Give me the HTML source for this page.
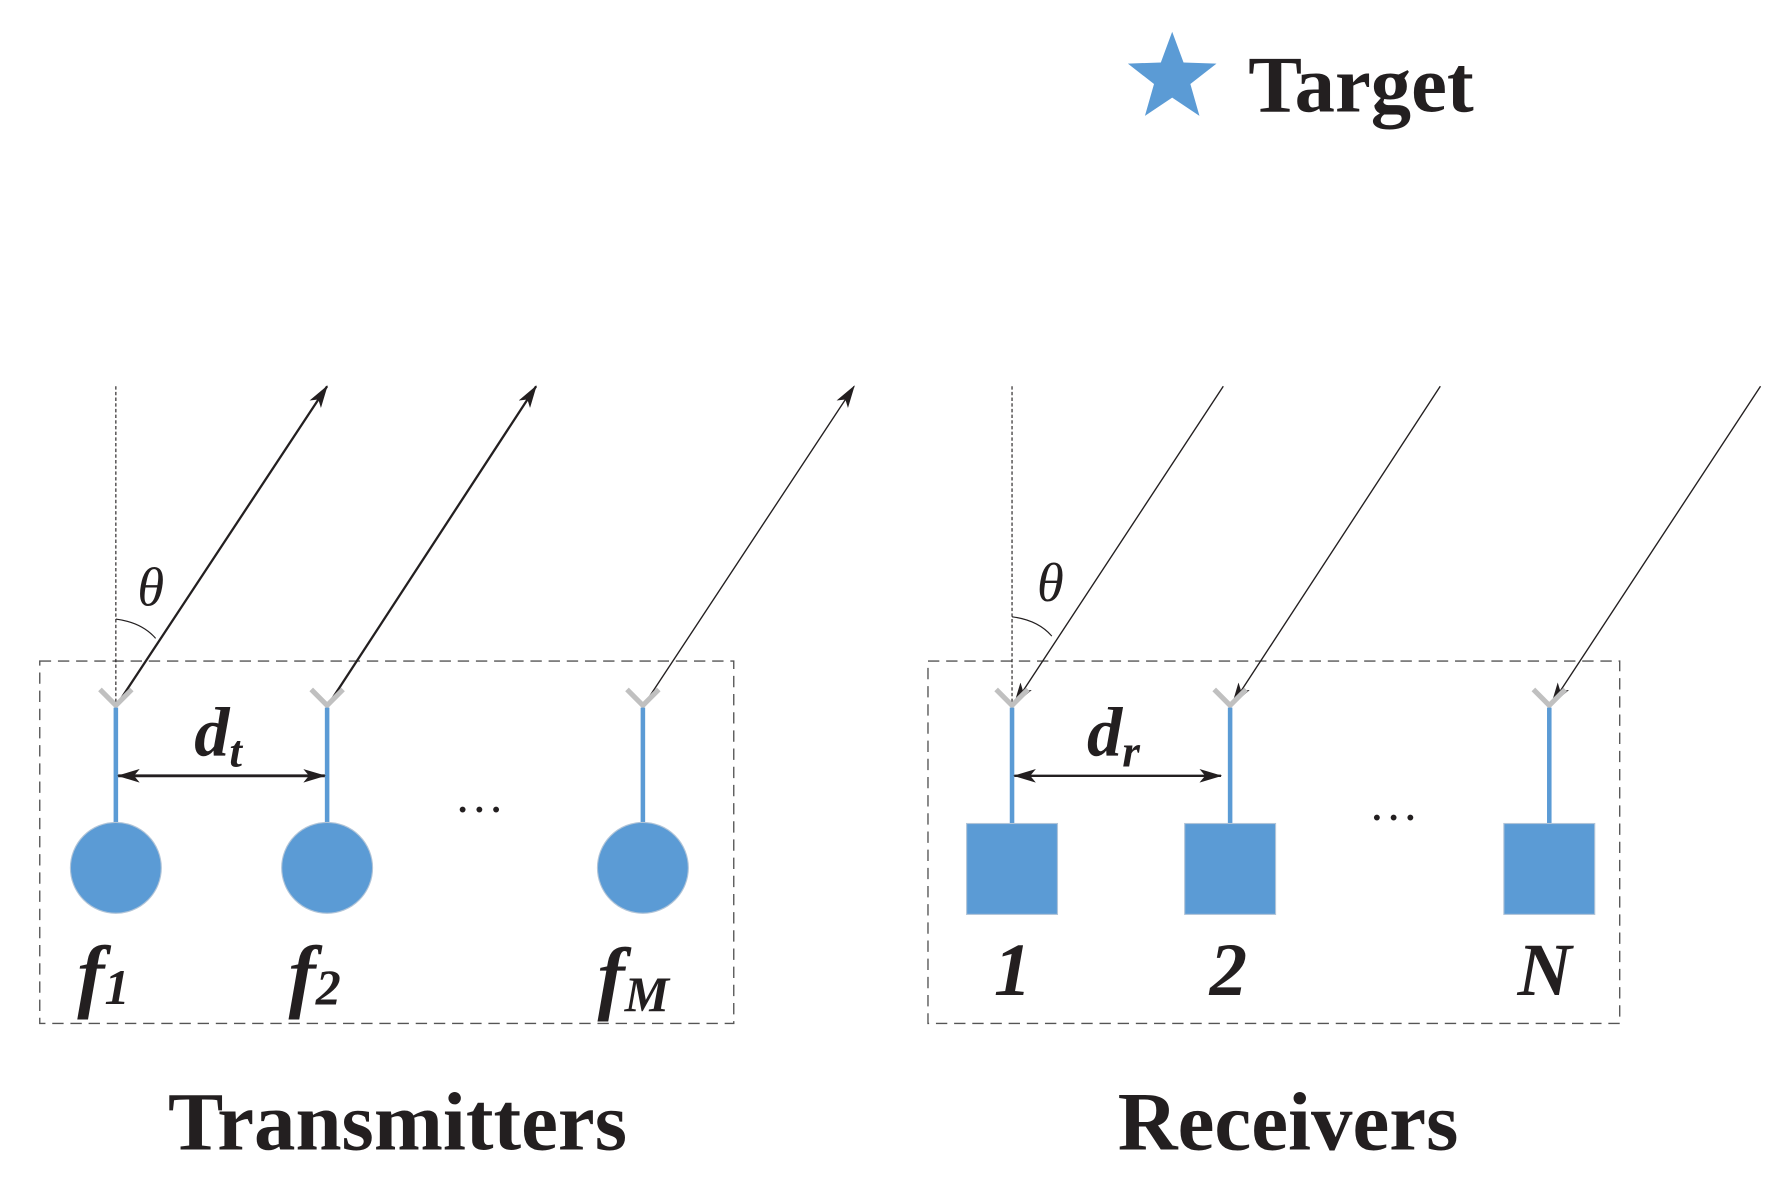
<!DOCTYPE html>
<html><head><meta charset="utf-8"><style>
html,body{margin:0;padding:0;background:#fff;}
svg{display:block;}
text{font-family:"Liberation Serif",serif;fill:#231f20;}
</style></head><body>
<svg width="1781" height="1187" viewBox="0 0 1568 1045" preserveAspectRatio="none" xmlns="http://www.w3.org/2000/svg">
<defs>
<marker id="a2" viewBox="0 0 20 12" markerWidth="20" markerHeight="12" refX="19" refY="6" orient="auto-start-reverse" markerUnits="userSpaceOnUse">
<path d="M0,0 L20,6 L0,12 L5,6 z" fill="#231f20"/>
</marker>
</defs>
<polygon points="1032,28 1042,55 1071,56 1048,74 1056,102 1032,86 1008,102 1016,74 993,56 1022,55" fill="#5b9bd5"/>
<text x="1099" y="98" font-size="71" font-weight="bold">Target</text>

<rect x="35" y="582" width="611" height="319" fill="none" stroke="#555" stroke-width="1.2" stroke-dasharray="10,6"/>
<rect x="817" y="582" width="609" height="319" fill="none" stroke="#555" stroke-width="1.2" stroke-dasharray="10,6"/>

<line x1="102" y1="340" x2="102" y2="620" stroke="#231f20" stroke-width="1" stroke-dasharray="3,2"/>
<line x1="891" y1="340" x2="891" y2="620" stroke="#231f20" stroke-width="1" stroke-dasharray="3,2"/>
<path d="M102,545 Q125,548 137,562" fill="none" stroke="#231f20" stroke-width="1"/>
<path d="M891,543 Q914,546 926,560" fill="none" stroke="#231f20" stroke-width="1"/>
<text x="121" y="533" font-size="48" font-style="italic">θ</text>
<text x="913" y="529" font-size="48" font-style="italic">θ</text>

<line x1="102" y1="622" x2="288" y2="340" stroke="#231f20" stroke-width="2" marker-end="url(#a2)"/>
<line x1="288" y1="622" x2="472" y2="340" stroke="#231f20" stroke-width="2" marker-end="url(#a2)"/>
<line x1="566" y1="622" x2="752" y2="340" stroke="#231f20" stroke-width="1.2" marker-end="url(#a2)"/>
<line x1="1077" y1="340" x2="893" y2="620" stroke="#231f20" stroke-width="1.2" marker-end="url(#a2)"/>
<line x1="1268" y1="340" x2="1085" y2="620" stroke="#231f20" stroke-width="1.2" marker-end="url(#a2)"/>
<line x1="1550" y1="340" x2="1366" y2="620" stroke="#231f20" stroke-width="1.2" marker-end="url(#a2)"/>

<g stroke="#c0c0c0" stroke-width="4.5" fill="none">
<path d="M88,607 L102,621 L116,607"/><path d="M274,607 L288,621 L302,607"/><path d="M552,607 L566,621 L580,607"/>
<path d="M877,607 L891,621 L905,607"/><path d="M1069,607 L1083,621 L1097,607"/><path d="M1350,607 L1364,621 L1378,607"/>
</g>
<g stroke="#5b9bd5" stroke-width="4">
<line x1="102" y1="623" x2="102" y2="726"/><line x1="288" y1="623" x2="288" y2="726"/><line x1="566" y1="623" x2="566" y2="726"/>
<line x1="891" y1="623" x2="891" y2="726"/><line x1="1083" y1="623" x2="1083" y2="726"/><line x1="1364" y1="623" x2="1364" y2="726"/>
</g>
<g fill="#5b9bd5" stroke="#b0c4d8" stroke-width="1">
<circle cx="102" cy="764" r="40"/><circle cx="288" cy="764" r="40"/><circle cx="566" cy="764" r="40"/>
<rect x="851" y="725" width="80" height="80"/><rect x="1043" y="725" width="80" height="80"/><rect x="1324" y="725" width="80" height="80"/>
</g>

<line x1="104" y1="683" x2="286" y2="683" stroke="#231f20" stroke-width="2.5" marker-start="url(#a2)" marker-end="url(#a2)"/>
<line x1="893" y1="683" x2="1075" y2="683" stroke="#231f20" stroke-width="2" marker-start="url(#a2)" marker-end="url(#a2)"/>
<text x="171" y="665" font-size="62" font-weight="bold" font-style="italic">d<tspan font-size="40" dy="10">t</tspan></text>
<text x="957" y="665" font-size="62" font-weight="bold" font-style="italic">d<tspan font-size="40" dy="10">r</tspan></text>

<text x="400" y="715" font-size="44">…</text>
<text x="1205" y="722" font-size="44">…</text>

<text x="68" y="882" font-size="72" font-weight="bold" font-style="italic">f<tspan font-size="44" dy="2">1</tspan></text>
<text x="254" y="882" font-size="72" font-weight="bold" font-style="italic">f<tspan font-size="44" dy="2">2</tspan></text>
<text x="526" y="884" font-size="72" font-weight="bold" font-style="italic">f<tspan font-size="44" dy="6">M</tspan></text>
<text x="875" y="876" font-size="66" font-weight="bold" font-style="italic">1</text>
<text x="1065" y="876" font-size="66" font-weight="bold" font-style="italic">2</text>
<text x="1336" y="876" font-size="66" font-weight="bold" font-style="italic">N</text>

<text x="350" y="1012" font-size="73" font-weight="bold" text-anchor="middle">Transmitters</text>
<text x="1134" y="1012" font-size="73" font-weight="bold" text-anchor="middle">Receivers</text>
</svg>
</body></html>
